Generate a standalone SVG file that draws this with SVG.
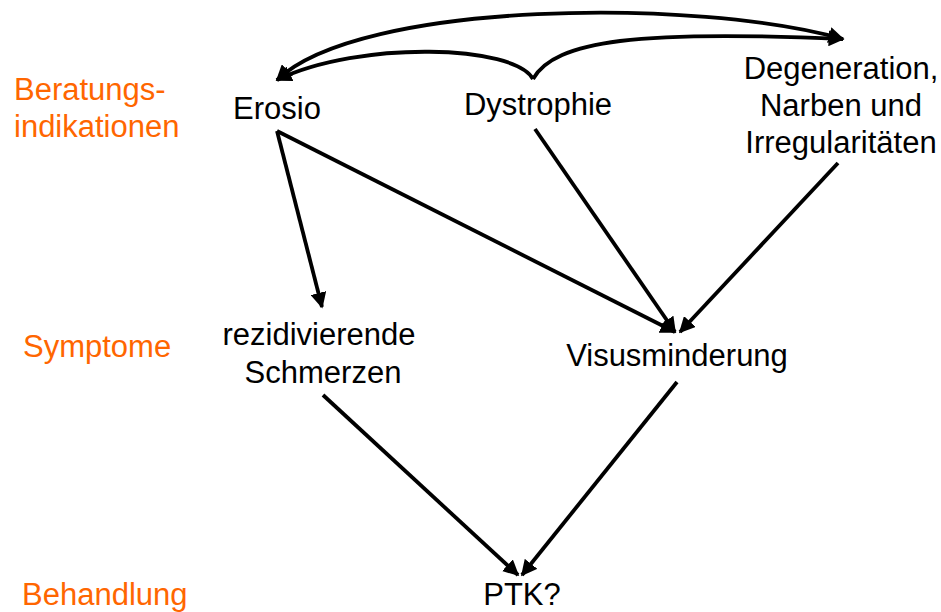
<svg xmlns="http://www.w3.org/2000/svg" width="941" height="612" viewBox="0 0 941 612">
<defs>
<style>
text{font-family:"Liberation Sans",Arial,sans-serif;font-size:31px;fill:#000}
.lbl{fill:#FF6600}
.n{text-anchor:middle}
.c{fill:none;stroke:#000;stroke-width:3.8}
</style>
<marker id="ah" viewBox="0 0 10 10" refX="9" refY="5" markerWidth="4.2" markerHeight="4.2" orient="auto-start-reverse" markerUnits="strokeWidth">
<path d="M0,0 L10,5 L0,10 Z" fill="#000"/>
</marker>
</defs>
<rect width="941" height="612" fill="#fff"/>
<g id="labels">
<text class="lbl" x="14" y="100">Beratungs-</text>
<text class="lbl" x="14" y="137">indikationen</text>
<text class="lbl" x="23" y="357">Symptome</text>
<text class="lbl" x="22" y="605">Behandlung</text>
</g>
<g id="erosio"><text class="n" x="277" y="119">Erosio</text></g>
<g id="dystrophie"><text class="n" x="538" y="115">Dystrophie</text></g>
<g id="degeneration">
<text class="n" x="841" y="79">Degeneration,</text>
<text class="n" x="841" y="116">Narben und</text>
<text class="n" x="841" y="153">Irregularitäten</text>
</g>
<g id="schmerzen">
<text class="n" x="319" y="345">rezidivierende</text>
<text class="n" x="323" y="383">Schmerzen</text>
</g>
<g id="visus"><text class="n" x="677" y="366">Visusminderung</text></g>
<g id="ptk"><text class="n" x="522" y="605">PTK?</text></g>
<g id="connectors">
<path class="c" d="M277,80 C360,0 700,-2 843,39" marker-start="url(#ah)" marker-end="url(#ah)"/>
<path class="c" d="M533,79 C515,45 360,40 277,80" marker-end="url(#ah)"/>
<path class="c" d="M533,79 C555,40 640,30 843,39" marker-end="url(#ah)"/>
<path class="c" d="M277,131 L322,307" marker-end="url(#ah)"/>
<path class="c" d="M277,131 L675,332" marker-end="url(#ah)"/>
<path class="c" d="M535,129 L675,332" marker-end="url(#ah)"/>
<path class="c" d="M838,163 L680,332" marker-end="url(#ah)"/>
<path class="c" d="M323,395 L518,575" marker-end="url(#ah)"/>
<path class="c" d="M677,382 L522,575" marker-end="url(#ah)"/>
</g>
</svg>
